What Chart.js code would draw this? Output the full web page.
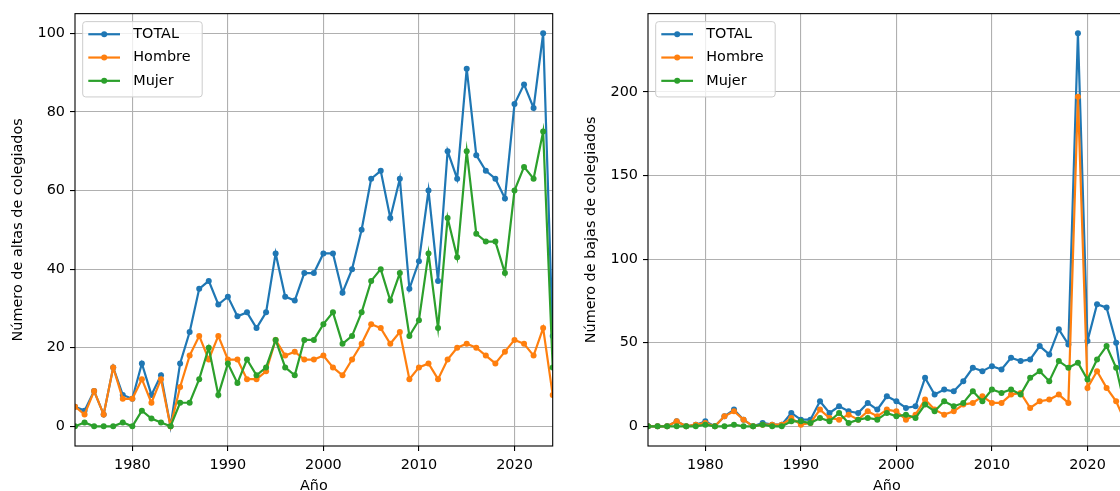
<!DOCTYPE html>
<html lang="es">
<head>
<meta charset="utf-8">
<title>Altas y bajas de colegiados por año</title>
<script src="https://cdn.jsdelivr.net/npm/chart.js@4.4.1/dist/chart.umd.min.js"></script>
<style>
  html, body { margin: 0; padding: 0; background: #fff; overflow: hidden; width: 1120px; height: 491px; }
  canvas { position: absolute; top: 0; }
  #altas { left: 0; }
  #bajas { left: 572.7px; }
</style>
</head>
<body>
<canvas id="altas" width="570" height="491"></canvas>
<canvas id="bajas" width="570" height="491"></canvas>
<script>
// Años de registro
const years = [1974, 1975, 1976, 1977, 1978, 1979, 1980, 1981, 1982, 1983,
               1984, 1985, 1986, 1987, 1988, 1989, 1990, 1991, 1992, 1993,
               1994, 1995, 1996, 1997, 1998, 1999, 2000, 2001, 2002, 2003,
               2004, 2005, 2006, 2007, 2008, 2009, 2010, 2011, 2012, 2013,
               2014, 2015, 2016, 2017, 2018, 2019, 2020, 2021, 2022, 2023,
               2024];

// Altas de colegiados
const altasTotal  = [5, 4, 9, 3, 15, 8, 7, 16, 8, 13,
                     0, 16, 24, 35, 37, 31, 33, 28, 29, 25,
                     29, 44, 33, 32, 39, 39, 44, 44, 34, 40,
                     50, 63, 65, 53, 63, 35, 42, 60, 37, 70,
                     63, 91, 69, 65, 63, 58, 82, 87, 81, 100,
                     23];
const altasHombre = [5, 3, 9, 3, 15, 7, 7, 12, 6, 12,
                     0, 10, 18, 23, 17, 23, 17, 17, 12, 12,
                     14, 22, 18, 19, 17, 17, 18, 15, 13, 17,
                     21, 26, 25, 21, 24, 12, 15, 16, 12, 17,
                     20, 21, 20, 18, 16, 19, 22, 21, 18, 25,
                     8];
const altasMujer  = [0, 1, 0, 0, 0, 1, 0, 4, 2, 1,
                     0, 6, 6, 12, 20, 8, 16, 11, 17, 13,
                     15, 22, 15, 13, 22, 22, 26, 29, 21, 23,
                     29, 37, 40, 32, 39, 23, 27, 44, 25, 53,
                     43, 70, 49, 47, 47, 39, 60, 66, 63, 75,
                     15];

// Bajas de colegiados
const bajasTotal  = [0, 0, 0, 3, 0, 1, 3, 0, 6, 10,
                     4, 0, 2, 1, 1, 8, 4, 4, 15, 8,
                     12, 9, 8, 14, 10, 18, 15, 11, 12, 29,
                     19, 22, 21, 27, 35, 33, 36, 34, 41, 39,
                     40, 48, 43, 58, 49, 235, 51, 73, 71, 50,
                     12];
const bajasHombre = [0, 0, 0, 3, 0, 1, 2, 0, 6, 9,
                     4, 0, 1, 1, 1, 5, 1, 2, 10, 5,
                     4, 7, 4, 9, 6, 10, 9, 4, 7, 16,
                     10, 7, 9, 13, 14, 18, 14, 14, 19, 20,
                     11, 15, 16, 19, 14, 197, 23, 33, 23, 15,
                     2];
const bajasMujer  = [0, 0, 0, 0, 0, 0, 1, 0, 0, 1,
                     0, 0, 1, 0, 0, 3, 3, 2, 5, 3,
                     8, 2, 4, 5, 4, 8, 6, 7, 5, 13,
                     9, 15, 12, 14, 21, 15, 22, 20, 22, 19,
                     29, 33, 27, 39, 35, 38, 28, 40, 48, 35,
                     10];

// Marcas de los ejes
const xTicks = [1980, 1990, 2000, 2010, 2020];
const altasTicks = [0, 20, 40, 60, 80, 100];
const bajasTicks = [0, 50, 100, 150, 200];

const seriesLabels = ['TOTAL', 'Hombre', 'Mujer'];
const seriesColors = ['#1f77b4', '#ff7f0e', '#2ca02c'];

const FONT = '"DejaVu Sans", "Liberation Sans", sans-serif';
Chart.defaults.font.family = FONT;
Chart.defaults.font.size = 14.4;
Chart.defaults.color = '#000';

// Marco de los ejes y leyenda en la esquina superior izquierda
const frameLegend = {
  id: 'frameLegend',
  afterDatasetsDraw(chart) {
    const { ctx, chartArea: a } = chart;
    ctx.save();
    ctx.strokeStyle = '#000';
    ctx.lineWidth = 1.1;
    ctx.strokeRect(a.left, a.top, a.right - a.left, a.bottom - a.top);

    const bx = a.left + 7.7, by = a.top + 8, bw = 119.5, bh = 75.3;
    ctx.beginPath();
    ctx.roundRect(bx, by, bw, bh, 3);
    ctx.fillStyle = 'rgba(255,255,255,0.8)';
    ctx.fill();
    ctx.strokeStyle = '#cccccc';
    ctx.lineWidth = 1;
    ctx.stroke();

    chart.data.datasets.forEach((ds, i) => {
      const y = by + 12.6 + i * 23.3;
      ctx.strokeStyle = ds.borderColor;
      ctx.lineWidth = 2.2;
      ctx.beginPath();
      ctx.moveTo(bx + 5.6, y);
      ctx.lineTo(bx + 37.3, y);
      ctx.stroke();
      ctx.fillStyle = ds.borderColor;
      ctx.beginPath();
      ctx.arc(bx + 21.5, y, 3, 0, Math.PI * 2);
      ctx.fill();
      ctx.fillStyle = '#000';
      ctx.font = '14.4px ' + FONT;
      ctx.textBaseline = 'middle';
      ctx.textAlign = 'left';
      ctx.fillText(ds.label, bx + 50.6, y);
    });
    ctx.restore();
  }
};

function series(values, idx) {
  return {
    label: seriesLabels[idx],
    data: years.map((yr, i) => ({ x: yr, y: values[i] })),
    borderColor: seriesColors[idx],
    backgroundColor: seriesColors[idx],
    pointBackgroundColor: seriesColors[idx],
    pointBorderWidth: 0,
    pointRadius: 3,
    borderWidth: 2.2,
    tension: 0,
    clip: 0,
    order: 3 - idx
  };
}

function makeChart(id, opts) {
  const gridCommon = {
    color: '#b0b0b0',
    lineWidth: 1.1,
    tickColor: '#000',
    tickLength: 5,
    tickWidth: 1.1
  };
  return new Chart(document.getElementById(id), {
    type: 'line',
    data: {
      datasets: [
        series(opts.total, 0),
        series(opts.hombre, 1),
        series(opts.mujer, 2)
      ]
    },
    plugins: [frameLegend],
    options: {
      responsive: false,
      animation: false,
      devicePixelRatio: 1,
      events: [],
      layout: { padding: { left: 0, top: 12.7, right: 17.3, bottom: 0 } },
      plugins: {
        legend: { display: false },
        tooltip: { enabled: false }
      },
      scales: {
        x: {
          type: 'linear',
          min: 1974,
          max: 2024,
          afterBuildTicks: s => { s.ticks = xTicks.map(v => ({ value: v })); },
          afterFit: s => { s.height = 45; },
          grid: gridCommon,
          border: { display: false },
          ticks: { padding: 6, maxRotation: 0, autoSkip: false, callback: v => String(v) },
          title: {
            display: true,
            text: 'Año',
            font: { size: 14.4, lineHeight: 0.9 },
            padding: { top: 0, bottom: -1.5 }
          }
        },
        y: {
          type: 'linear',
          min: opts.yMin,
          max: opts.yMax,
          afterBuildTicks: s => { s.ticks = opts.yTicks.map(v => ({ value: v })); },
          afterFit: s => { s.width = 75; },
          grid: gridCommon,
          border: { display: false },
          ticks: { padding: 5, autoSkip: false, callback: v => String(v) },
          title: {
            display: true,
            text: opts.yTitle,
            font: { size: 14.4, lineHeight: 1.2 },
            padding: { top: 9.4, bottom: 0 }
          }
        }
      }
    }
  });
}

makeChart('altas', {
  total: altasTotal, hombre: altasHombre, mujer: altasMujer,
  yMin: -5, yMax: 105, yTicks: altasTicks,
  yTitle: 'Número de altas de colegiados'
});

makeChart('bajas', {
  total: bajasTotal, hombre: bajasHombre, mujer: bajasMujer,
  yMin: -11.75, yMax: 246.75, yTicks: bajasTicks,
  yTitle: 'Número de bajas de colegiados'
});
</script>
</body>
</html>
